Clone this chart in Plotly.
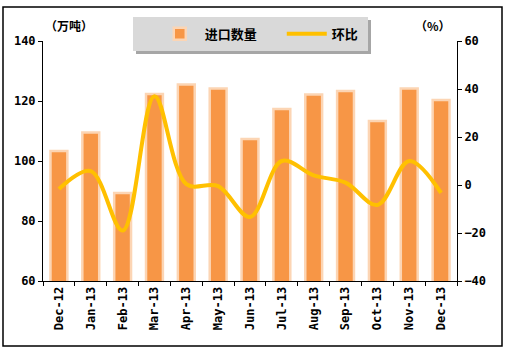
import plotly.graph_objects as go

categories = ["Dec-12", "Jan-13", "Feb-13", "Mar-13", "Apr-13", "May-13", "Jun-13",
              "Jul-13", "Aug-13", "Sep-13", "Oct-13", "Nov-13", "Dec-13"]
import_volume = [103.3, 109.5, 89.3, 122.3, 125.5, 124.2, 107.3, 117.3, 122.2, 123.3, 113.3, 124.2, 120.3]
mom_change = [-1.7, 5.8, -19.0, 37.0, 0.4, -0.5, -13.3, 10.0, 4.0, 1.0, -8.3, 10.0, -3.3]

tick_font = dict(family="DejaVu Sans Mono", size=12, color="black", weight="bold")

fig = go.Figure()
fig.add_trace(go.Bar(
    x=categories, y=import_volume, name="进口数量",
    marker=dict(color="#F79646", line=dict(color="#FCD5B4", width=2.5)),
    yaxis="y",
))
fig.add_trace(go.Scatter(
    x=categories, y=mom_change, name="环比", mode="lines",
    line=dict(color="#FFC000", width=4, shape="spline", smoothing=1.0),
    yaxis="y2",
))

fig.update_layout(
    width=507, height=351,
    margin=dict(l=43, r=50, t=41, b=70),
    paper_bgcolor="white", plot_bgcolor="white",
    bargap=0.47,
    showlegend=True,
    legend=dict(orientation="h", x=0.27, y=1.03, xanchor="left", yanchor="middle",
                bgcolor="rgba(0,0,0,0)", entrywidth=72, itemwidth=40,
                font=dict(family="Noto Sans CJK SC", size=13, color="black", weight="bold")),
    xaxis=dict(type="category", showline=True, linecolor="black", linewidth=1,
               ticks="outside", ticklen=4, tickcolor="black", tickson="boundaries",
               tickangle=-90, tickfont=tick_font, showgrid=False, zeroline=False),
    yaxis=dict(range=[60, 140], dtick=20, showline=True, linecolor="black", linewidth=1,
               ticks="outside", ticklen=4, tickcolor="black", tickfont=tick_font,
               showgrid=False, zeroline=False),
    yaxis2=dict(range=[-40, 60], dtick=20, overlaying="y", side="right",
                showline=True, linecolor="black", linewidth=1,
                ticks="outside", ticklen=4, tickcolor="black", tickfont=tick_font,
                showgrid=False, zeroline=False),
    shapes=[
        # outer border
        dict(type="rect", xref="paper", yref="paper",
             x0=-40/414, x1=459/414, y0=-65/240, y1=274/240,
             line=dict(color="black", width=1.5), fillcolor="rgba(0,0,0,0)", layer="below"),
        # legend shadow
        dict(type="rect", xref="paper", yref="paper",
             x0=(93)/414, x1=(328)/414, y0=(281-54)/240, y1=(281-20)/240,
             line=dict(width=0), fillcolor="#A6A6A6", layer="below"),
        # legend box
        dict(type="rect", xref="paper", yref="paper",
             x0=(90)/414, x1=(325)/414, y0=(281-51)/240, y1=(281-17)/240,
             line=dict(width=0), fillcolor="#D9D9D9", layer="below"),
    ],
    annotations=[
        dict(text="（万吨）", xref="paper", yref="paper", x=(0)/414, y=(281-25)/240,
             xanchor="left", yanchor="middle", showarrow=False,
             font=dict(family="Noto Sans CJK SC", size=12, color="black", weight="bold")),
        dict(text="（%）", xref="paper", yref="paper", x=(370)/414, y=(281-25)/240,
             xanchor="left", yanchor="middle", showarrow=False,
             font=dict(family="Noto Sans CJK SC", size=12, color="black", weight="bold")),
    ],
)

fig.write_html("out.html")
